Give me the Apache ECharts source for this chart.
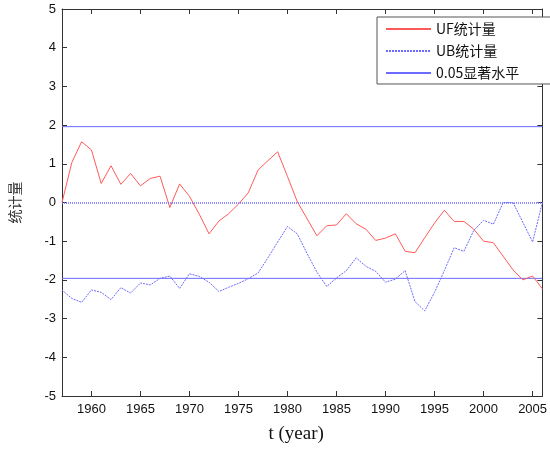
<!DOCTYPE html>
<html><head><meta charset="utf-8">
<script src="https://cdn.jsdelivr.net/npm/echarts@6/dist/echarts.min.js"></script>
<style>html,body{margin:0;padding:0;background:#fff}#c{width:550px;height:452px}</style>
</head><body><div id="c"></div>
<script>
const years = [1957,1958,1959,1960,1961,1962,1963,1964,1965,1966,1967,1968,1969,1970,1971,1972,1973,1974,1975,1976,1977,1978,1979,1980,1981,1982,1983,1984,1985,1986,1987,1988,1989,1990,1991,1992,1993,1994,1995,1996,1997,1998,1999,2000,2001,2002,2003,2004,2005,2006];
const ufValues = [0,1.03,1.57,1.36,0.49,0.95,0.47,0.75,0.43,0.62,0.68,-0.13,0.48,0.16,-0.3,-0.81,-0.48,-0.29,-0.04,0.25,0.84,1.08,1.31,0.67,0.02,-0.42,-0.86,-0.6,-0.58,-0.29,-0.55,-0.69,-0.98,-0.92,-0.81,-1.26,-1.30,-0.91,-0.53,-0.2,-0.49,-0.49,-0.69,-1.0,-1.04,-1.39,-1.74,-2.0,-1.9,-2.23];
const ubValues = [-2.26,-2.48,-2.58,-2.26,-2.32,-2.51,-2.2,-2.34,-2.08,-2.13,-1.96,-1.9,-2.22,-1.84,-1.91,-2.06,-2.3,-2.19,-2.09,-1.97,-1.82,-1.43,-1.02,-0.62,-0.81,-1.32,-1.8,-2.17,-1.95,-1.76,-1.43,-1.65,-1.78,-2.06,-1.98,-1.76,-2.56,-2.8,-2.32,-1.76,-1.17,-1.26,-0.72,-0.46,-0.56,0,0,-0.51,-1.02,0];
const xTicks = [1960,1965,1970,1975,1980,1985,1990,1995,2000,2005];
const critical = 1.96;
const seriesNames = ['UF统计量','UB统计量','0.05显著水平'];

const RED = '#ff5a5a', BLUE = '#6b6bff', AX = '#333';
const pair = (a) => years.map((y,i) => [y, a[i]]);
const xRange = [years[0], years[years.length-1]];

const chart = echarts.init(document.getElementById('c'));
const tickStyle = {show:true,inside:true,length:5,lineStyle:{color:AX,width:1}};
const lineAx = {show:true,onZero:false,lineStyle:{color:AX,width:1}};
chart.setOption({
  animation:false,
  grid:{left:59,right:3,top:9,bottom:56},
  legend:{
    data:seriesNames, orient:'vertical', left:377, top:17, width:150,
    itemWidth:45, itemHeight:14, itemGap:8, padding:[5,40,4,8],
    backgroundColor:'#fff', borderColor:'#555', borderWidth:1,
    itemStyle:{opacity:0},
    textStyle:{fontFamily:'Noto Sans CJK SC', fontSize:14, color:'#111'}
  },
  xAxis:[
    {type:'value',min:xRange[0],max:xRange[1],position:'bottom',
      name:'t (year)',nameLocation:'middle',nameGap:29,
      nameTextStyle:{fontFamily:'Liberation Serif',fontSize:19,color:'#111',padding:[0,12,0,0]},
      axisLine:lineAx, splitLine:{show:false},
      axisTick:Object.assign({customValues:xTicks},tickStyle),
      axisLabel:{customValues:xTicks,margin:7,fontFamily:'Liberation Sans',fontSize:13,color:'#111',
        formatter:(v)=>String(v)}},
    {type:'value',min:xRange[0],max:xRange[1],position:'top',
      axisLine:lineAx, splitLine:{show:false},
      axisTick:Object.assign({customValues:xTicks},tickStyle),
      axisLabel:{show:false}}
  ],
  yAxis:[
    {type:'value',min:-5,max:5,interval:1,position:'left',
      name:'统计量',nameLocation:'middle',nameGap:40,nameRotate:90,
      nameTextStyle:{fontFamily:'Noto Sans CJK SC',fontSize:14,color:'#333'},
      axisLine:lineAx, splitLine:{show:false}, axisTick:tickStyle,
      axisLabel:{margin:6,fontFamily:'Liberation Sans',fontSize:13,color:'#111',padding:[8,0,0,0]}},
    {type:'value',min:-5,max:5,interval:1,position:'right',
      axisLine:lineAx, splitLine:{show:false}, axisTick:tickStyle,
      axisLabel:{show:false}}
  ],
  series:[
    {name:seriesNames[0],type:'line',data:pair(ufValues),symbol:'none',
      lineStyle:{color:RED,width:1},itemStyle:{color:RED},z:3},
    {name:seriesNames[1],type:'line',data:pair(ubValues),symbol:'none',
      lineStyle:{color:BLUE,width:1,type:[2,1]},itemStyle:{color:BLUE},z:3,
      markLine:{silent:true,symbol:'none',label:{show:false},
        lineStyle:{color:BLUE,width:1.5,type:[1,1]},data:[{yAxis:0}]}},
    {name:seriesNames[2],type:'line',data:[[xRange[0],critical],[xRange[1],critical]],symbol:'none',
      lineStyle:{color:BLUE,width:1},itemStyle:{color:BLUE},z:2},
    {name:seriesNames[2],type:'line',data:[[xRange[0],-critical],[xRange[1],-critical]],symbol:'none',
      lineStyle:{color:BLUE,width:1},itemStyle:{color:BLUE},z:2}
  ]
});
</script></body></html>
